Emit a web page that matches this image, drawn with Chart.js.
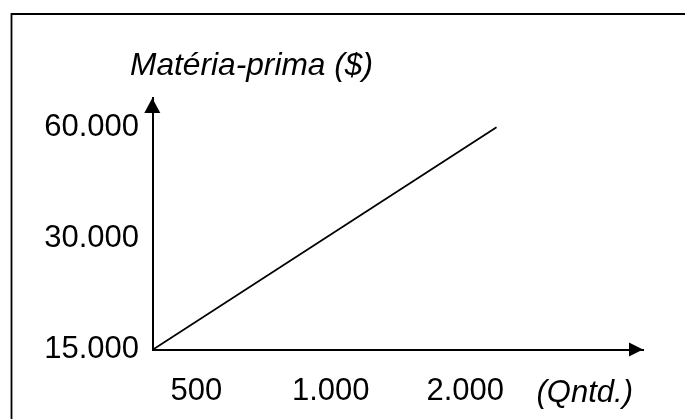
<!DOCTYPE html>
<html>
<head>
<meta charset="utf-8">
<script src="https://cdn.jsdelivr.net/npm/chart.js@4.4.1/dist/chart.umd.min.js"></script>
<style>
  html, body { margin: 0; padding: 0; background: #ffffff; }
  #wrap { position: absolute; left: 0; top: 0; width: 685px; height: 419px; }
</style>
</head>
<body>
<div id="wrap"><canvas id="c" width="685" height="419"></canvas></div>
<script>
// ---- data ----
const yAxisTitle = 'Matéria-prima ($)';
const xAxisUnit = '(Qntd.)';
const xTickValues = [500, 1000, 2000];
const xTickLabels = ['500', '1.000', '2.000'];
const yTickValues = [15000, 30000, 60000];
const yTickLabels = ['15.000', '30.000', '60.000'];
const lineQty = [400, 2350];
const lineCost = [15000, 60000];
const xRange = [400, 5000];
const yRange = [15000, 72000];

const FONT = "'Liberation Sans', Arial, sans-serif";

const decor = {
  id: 'decor',
  beforeDraw(chart) {
    const ctx = chart.ctx;
    ctx.save();
    ctx.fillStyle = '#ffffff';
    ctx.fillRect(0, 0, chart.width, chart.height);
    // outer frame (left and top edges visible)
    ctx.strokeStyle = '#000000';
    ctx.lineWidth = 1.8;
    ctx.beginPath();
    ctx.moveTo(11.5, chart.height + 2);
    ctx.lineTo(11.5, 14);
    ctx.lineTo(chart.width + 2, 14);
    ctx.stroke();
    ctx.restore();
  },
  afterDraw(chart) {
    const ctx = chart.ctx;
    const a = chart.chartArea;
    ctx.save();
    ctx.fillStyle = '#000000';
    // y arrow head
    const yx = a.left - 0.7;
    ctx.beginPath();
    ctx.moveTo(yx, a.top);
    ctx.lineTo(yx - 8, a.top + 15);
    ctx.lineTo(yx + 8, a.top + 15);
    ctx.closePath();
    ctx.fill();
    // x arrow head
    const xy = a.bottom;
    ctx.beginPath();
    ctx.moveTo(a.right, xy);
    ctx.lineTo(a.right - 14, xy - 7);
    ctx.lineTo(a.right - 14, xy + 7);
    ctx.closePath();
    ctx.fill();
    // titles
    ctx.font = 'italic 31.7px ' + FONT;
    ctx.textBaseline = 'alphabetic';
    ctx.textAlign = 'left';
    ctx.fillText(yAxisTitle, a.left - 23, 75);
    ctx.font = 'italic 31px ' + FONT;
    ctx.textAlign = 'right';
    ctx.fillText(xAxisUnit, a.right - 10, a.bottom + 52.5);
    ctx.restore();
  }
};

new Chart(document.getElementById('c'), {
  type: 'line',
  data: {
    datasets: [{
      data: lineQty.map((q, i) => ({ x: q, y: lineCost[i] })),
      borderColor: '#000000',
      borderWidth: 1.8,
      pointRadius: 0,
      fill: false,
      tension: 0
    }]
  },
  options: {
    responsive: false,
    animation: false,
    devicePixelRatio: 1,
    layout: { padding: { left: 0, right: 42, top: 98, bottom: 0 } },
    plugins: { legend: { display: false }, tooltip: { enabled: false }, title: { display: false } },
    scales: {
      x: {
        type: 'logarithmic',
        min: xRange[0],
        max: xRange[1],
        grid: { display: false, drawTicks: false },
        border: { display: true, color: '#000000', width: 2 },
        afterBuildTicks: s => { s.ticks = xTickValues.map(v => ({ value: v })); },
        afterFit: s => { s.height = 69.5; },
        ticks: {
          autoSkip: false,
          maxRotation: 0,
          padding: 23,
          color: '#000000',
          font: { family: FONT, size: 31 },
          callback: v => { const i = xTickValues.indexOf(v); return i >= 0 ? xTickLabels[i] : ''; }
        }
      },
      y: {
        type: 'logarithmic',
        min: yRange[0],
        max: yRange[1],
        grid: { display: false, drawTicks: false },
        border: { display: true, color: '#000000', width: 2 },
        afterBuildTicks: s => { s.ticks = yTickValues.map(v => ({ value: v })); },
        afterFit: s => { s.width = 153; },
        ticks: {
          autoSkip: false,
          padding: 14,
          color: '#000000',
          font: { family: FONT, size: 31 },
          callback: v => { const i = yTickValues.indexOf(v); return i >= 0 ? yTickLabels[i] : ''; }
        }
      }
    }
  },
  plugins: [decor]
});
</script>
</body>
</html>
